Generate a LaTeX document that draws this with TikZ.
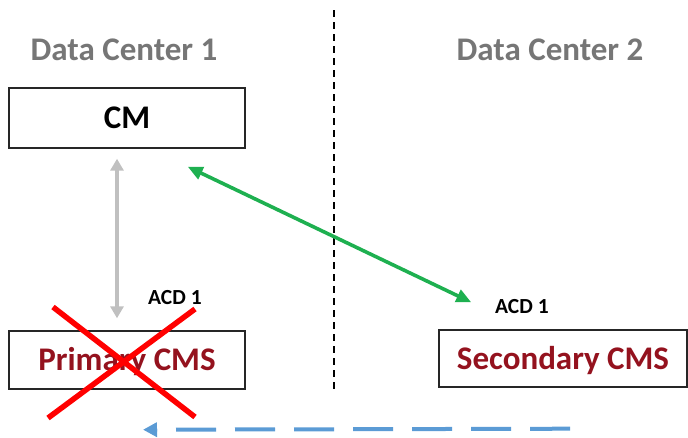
\documentclass[tikz,border=0pt]{standalone}
\usepackage{fontspec}
\setmainfont{Carlito}
\usetikzlibrary{arrows.meta,calc}
\definecolor{dcgrey}{RGB}{118,118,118}
\definecolor{cmsred}{RGB}{148,18,30}
\definecolor{linkgreen}{RGB}{30,176,80}
\definecolor{linkgrey}{RGB}{192,192,192}
\definecolor{linkblue}{RGB}{91,155,213}
\definecolor{crossred}{RGB}{255,0,0}
\tikzset{
  dctitle/.style={font=\fontsize{33}{36}\selectfont\bfseries, text=dcgrey, anchor=base, inner sep=0},
  sysbox/.style={draw=black!85, line width=1.4pt, minimum width=236pt, minimum height=58pt,
    inner sep=0, text height=21pt, text depth=0pt, font=\fontsize{33}{36}\selectfont\bfseries},
  acdlabel/.style={font=\fontsize{21.5}{24}\selectfont\bfseries, anchor=base west, inner sep=0},
  greylink/.style={draw=linkgrey, line width=4pt, {Triangle[length=12pt,width=13pt]}-{Triangle[length=12pt,width=13pt]}},
  greenlink/.style={draw=linkgreen, line width=3.6pt, {Triangle[length=15pt,width=13pt]}-{Triangle[length=15pt,width=13pt]}},
  bluelink/.style={draw=linkblue, line width=4pt, dash pattern=on 40pt off 19pt, -{Triangle[length=14pt,width=14pt]}},
  crossline/.style={draw=crossred, line width=5.5pt},
  divider/.style={draw=black, line width=1.2pt, dash pattern=on 7pt off 5pt}
}
\begin{document}
\begin{tikzpicture}[x=1pt,y=-1pt]
  \useasboundingbox (0,0) rectangle (688,437);
  % site boundary
  \draw[divider] (334,10) -- (334,393);
  % site titles
  \node[dctitle] (dc1) at (124,60) {Data Center 1};
  \node[dctitle] (dc2) at (550,60) {Data Center 2};
  % systems
  \node[sysbox, minimum height=60pt] (cm) at (127,118) {CM};
  \node[sysbox, text=cmsred] (pcms) at (127,360) {Primary CMS};
  \node[sysbox, text=cmsred, minimum width=248pt, minimum height=57pt] (scms) at (563,358.5) {Secondary CMS};
  % ACD labels
  \node[acdlabel] (acd1) at (148,304) {ACD 1};
  \node[acdlabel] (acd2) at (495,313) {ACD 1};
  % links
  \draw[greylink] ([shift={(-10,10)}]cm.south) -- ([shift={(-10,-12)}]pcms.north);
  \coordinate (gA) at ([shift={(-58,18)}]cm.south east);
  \coordinate (gB) at ([shift={(33,-27)}]scms.north west);
  \draw[greenlink] (gA) -- (gB);
  \coordinate (bA) at ([shift={(7,41)}]scms.south);
  \coordinate (bB) at ([shift={(16,40)}]pcms.south);
  \draw[bluelink] (bA) -- (bB);
  % failed primary
  \draw[crossline] (53,307) -- (195,417);
  \draw[crossline] (195,309) -- (48,418);
\end{tikzpicture}
\end{document}
